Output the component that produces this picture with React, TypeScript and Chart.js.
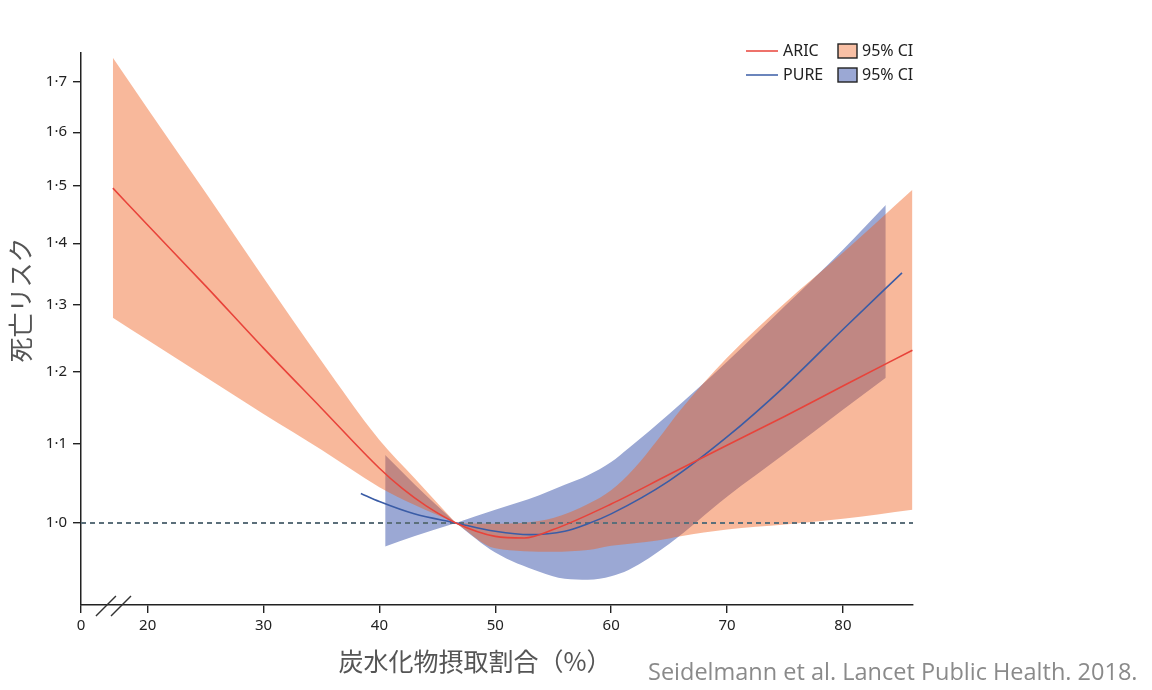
import React, { useEffect, useRef } from "react";
import { Chart, registerables } from "chart.js";

Chart.register(...registerables);

// ---- axis ticks ----
const xAxisMin = 14.25; // broken axis: shown as "0"
const xAxisMax = 86.05;
const xTickValues = [14.25, 20, 30, 40, 50, 60, 70, 80];
const xTickLabels = ["0", "20", "30", "40", "50", "60", "70", "80"];
const yAxisMin = 0.906;
const yAxisMax = 1.76;
const yTickValues = [1.0, 1.1, 1.2, 1.3, 1.4, 1.5, 1.6, 1.7];
const yTickLabels = ["1·0", "1·1", "1·2", "1·3", "1·4", "1·5", "1·6", "1·7"];
const breakMarkValues = [16.4, 17.7];

// ---- ARIC ----
const aricX = [17, 20, 25, 30, 35, 40, 42, 44, 46.6, 50, 52.5, 55, 60, 65, 70, 75, 80, 86];
const aricRisk = [1.496, 1.431, 1.33, 1.234, 1.148, 1.068, 1.042, 1.021, 1.0, 0.984, 0.982, 0.992, 1.023, 1.06, 1.098, 1.137, 1.179, 1.231];
const aricCiX = [17, 20, 25, 30, 35, 40, 43, 46.6, 50, 55, 58, 60, 62, 64, 66, 70, 75, 80, 86];
const aricUpper = [1.75, 1.646, 1.488, 1.343, 1.215, 1.105, 1.056, 1.0, 0.999, 1.006, 1.023, 1.04, 1.068, 1.105, 1.146, 1.22, 1.303, 1.384, 1.493];
const aricLower = [1.28, 1.246, 1.192, 1.14, 1.092, 1.044, 1.022, 1.0, 0.97, 0.966, 0.968, 0.973, 0.976, 0.979, 0.984, 0.992, 0.998, 1.005, 1.016];

// ---- PURE ----
const pureX = [38.4, 40, 43, 46.6, 50, 53, 56, 58, 60, 65, 70, 75, 80, 85.1];
const pureRisk = [1.036, 1.026, 1.011, 1.0, 0.99, 0.986, 0.99, 0.999, 1.011, 1.052, 1.109, 1.179, 1.262, 1.351];
const pureCiX = [40.5, 43, 46.6, 50, 53.8, 56, 58, 60, 61.5, 65, 70, 75, 80, 83.7];
const pureUpper = [1.085, 1.048, 1.0, 1.016, 1.034, 1.047, 1.059, 1.076, 1.094, 1.14, 1.214, 1.298, 1.389, 1.466];
const pureLower = [0.972, 0.984, 1.0, 0.965, 0.943, 0.935, 0.934, 0.938, 0.945, 0.975, 1.032, 1.087, 1.146, 1.191];

const pivotX = 46.6;
const referenceRisk = 1.0;

const seriesNames = ["ARIC", "PURE"];
const ciLabel = "95% CI";
const yTitle = "死亡リスク";
const xTitle = "炭水化物摂取割合（%）";
const credit = "Seidelmann et al. Lancet Public Health. 2018.";

const ARIC_LINE = "#e8433a";
const PURE_LINE = "#3a5ca6";
const ARIC_FILL = "rgba(239,94,28,0.44)";
const PURE_FILL = "#9ba8d4";
const ARIC_KEY = "#f9c0a5";
const PURE_KEY = "#9ba8d4";

const pts = (xs: number[], ys: number[]) => xs.map((x, i) => ({ x, y: ys[i] }));

function bandDatasets(xs: number[], up: number[], lo: number[], color: string, order: number) {
  const p = xs.indexOf(pivotX);
  const parts = [
    [0, p + 1],
    [p, xs.length],
  ];
  const out: any[] = [];
  parts.forEach(([a, b]) => {
    const sx = xs.slice(a, b);
    out.push({
      data: pts(sx, up.slice(a, b)),
      borderWidth: 0,
      pointRadius: 0,
      backgroundColor: color,
      fill: "+1",
      cubicInterpolationMode: "monotone",
      order,
    });
    out.push({
      data: pts(sx, lo.slice(a, b)),
      borderWidth: 0,
      pointRadius: 0,
      fill: false,
      cubicInterpolationMode: "monotone",
      order,
    });
  });
  return out;
}

const decorPlugin = {
  id: "decor",
  afterDraw(chart: any) {
    const ctx = chart.ctx;
    const xs = chart.scales.x;
    const ys = chart.scales.y;
    const ca = chart.chartArea;
    ctx.save();
    // axis break marks
    ctx.strokeStyle = "#333";
    ctx.lineWidth = 1.4;
    breakMarkValues.forEach((v) => {
      const px = xs.getPixelForValue(v);
      ctx.beginPath();
      ctx.moveTo(px - 10, ys.bottom + 11);
      ctx.lineTo(px + 10, ys.bottom - 9);
      ctx.stroke();
    });

    // legend
    const lx = ca.right - 167;
    const rows = [
      { name: seriesNames[0], line: ARIC_LINE, key: ARIC_KEY },
      { name: seriesNames[1], line: PURE_LINE, key: PURE_KEY },
    ];
    ctx.font = '16px "Noto Sans", sans-serif';
    ctx.textBaseline = "middle";
    ctx.textAlign = "left";
    rows.forEach((r, i) => {
      const y = ca.top - 2 + i * 24;
      ctx.strokeStyle = r.line;
      ctx.lineWidth = 1.5;
      ctx.beginPath();
      ctx.moveTo(lx, y);
      ctx.lineTo(lx + 32, y);
      ctx.stroke();
      ctx.fillStyle = "#222";
      ctx.fillText(r.name, lx + 37, y);
      ctx.fillStyle = r.key;
      ctx.fillRect(lx + 92, y - 7, 19, 14);
      ctx.strokeStyle = "#222";
      ctx.lineWidth = 1.4;
      ctx.strokeRect(lx + 92, y - 7, 19, 14);
      ctx.fillStyle = "#222";
      ctx.fillText(ciLabel, lx + 116, y);
    });

    // y title
    ctx.fillStyle = "#555";
    ctx.font = '25px "Noto Sans CJK JP", sans-serif';
    ctx.translate(20, 300);
    ctx.rotate(-Math.PI / 2);
    ctx.textAlign = "center";
    ctx.fillText(yTitle, 0, 0);
    ctx.restore();

    ctx.save();
    ctx.fillStyle = "#555";
    ctx.font = '25px "Noto Sans CJK JP", sans-serif';
    ctx.textAlign = "center";
    ctx.textBaseline = "middle";
    ctx.fillText(xTitle, 475, 661);
    ctx.fillStyle = "#8a8a8a";
    ctx.font = '23.5px "Open Sans", sans-serif';
    ctx.textAlign = "left";
    ctx.fillText(credit, 648, 673);
    ctx.restore();
  },
};

export default function App() {
  const ref = useRef<HTMLCanvasElement | null>(null);
  useEffect(() => {
    if (!ref.current) return;
    Chart.defaults.font.family = '"Noto Sans", sans-serif';
    const datasets: any[] = [
      {
        label: seriesNames[0],
        data: pts(aricX, aricRisk),
        borderColor: ARIC_LINE,
        borderWidth: 1.6,
        pointRadius: 0,
        fill: false,
        cubicInterpolationMode: "monotone",
        order: 0,
      },
      {
        label: seriesNames[1],
        data: pts(pureX, pureRisk),
        borderColor: PURE_LINE,
        borderWidth: 1.6,
        pointRadius: 0,
        fill: false,
        cubicInterpolationMode: "monotone",
        order: 0,
      },
      {
        data: [
          { x: xAxisMin, y: referenceRisk },
          { x: xAxisMax, y: referenceRisk },
        ],
        borderColor: "#5b6f7a",
        borderWidth: 2,
        borderDash: [5, 4],
        pointRadius: 0,
        fill: false,
        order: 1,
      },
      ...bandDatasets(aricCiX, aricUpper, aricLower, ARIC_FILL, 2),
      ...bandDatasets(pureCiX, pureUpper, pureLower, PURE_FILL, 3),
    ];
    const chart = new Chart(ref.current, {
      type: "line",
      data: { datasets },
      plugins: [decorPlugin],
      options: {
        animation: false,
        responsive: false,
        devicePixelRatio: 1,
        layout: { padding: { top: 53, right: 239, left: 0, bottom: 0 } },
        plugins: { legend: { display: false }, tooltip: { enabled: false } },
        scales: {
          x: {
            type: "linear",
            min: xAxisMin,
            max: xAxisMax,
            afterBuildTicks: (s: any) => {
              s.ticks = xTickValues.map((v) => ({ value: v }));
            },
            afterFit: (s: any) => {
              s.height = 85;
            },
            ticks: {
              autoSkip: false,
              maxRotation: 0,
              padding: 4,
              color: "#222",
              font: { size: 15 },
              callback: (v: any) => {
                const i = xTickValues.indexOf(Number(v));
                return i >= 0 ? xTickLabels[i] : "";
              },
            },
            grid: { drawOnChartArea: false, drawTicks: true, tickLength: 8, color: "#222", lineWidth: 1.4 },
            border: { display: true, color: "#222", width: 1.5 },
          },
          y: {
            type: "logarithmic",
            min: yAxisMin,
            max: yAxisMax,
            afterBuildTicks: (s: any) => {
              s.ticks = yTickValues.map((v) => ({ value: v }));
            },
            afterFit: (s: any) => {
              s.width = 81;
            },
            ticks: {
              autoSkip: false,
              padding: 6,
              color: "#222",
              font: { size: 15 },
              callback: (v: any) => {
                const i = yTickValues.findIndex((t) => Math.abs(t - Number(v)) < 1e-9);
                return i >= 0 ? yTickLabels[i] : "";
              },
            },
            grid: { drawOnChartArea: false, drawTicks: true, tickLength: 8, color: "#222", lineWidth: 1.4 },
            border: { display: true, color: "#222", width: 1.5 },
          },
        },
      } as any,
    });
    return () => chart.destroy();
  }, []);
  return (
    <div style={{ position: "absolute", left: 0, top: 0, width: 1152, height: 690, background: "#fff" }}>
      <canvas ref={ref} width={1152} height={690} style={{ display: "block", width: 1152, height: 690 }} />
    </div>
  );
}
